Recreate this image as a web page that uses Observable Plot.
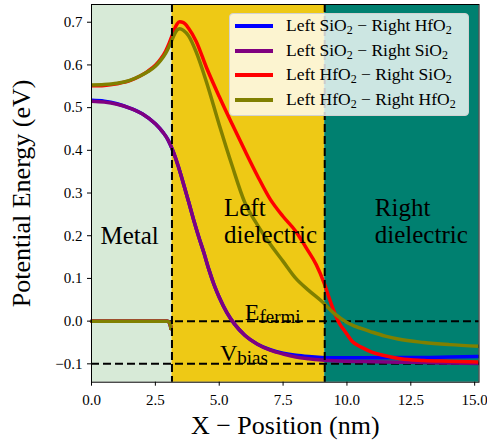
<!DOCTYPE html>
<html><head><meta charset="utf-8">
<script src="https://cdn.jsdelivr.net/npm/d3@7"></script>
<script src="https://cdn.jsdelivr.net/npm/@observablehq/plot@0.6"></script>
<style>
body{margin:0;background:#fff;}
#chart{position:relative;width:487px;height:446px;font-family:"Liberation Serif",serif;}
#legend{position:absolute;left:229px;top:13px;width:240px;height:103px;box-sizing:border-box;border:1px solid #d2d2d2;border-radius:4px;background:rgba(255,255,255,0.8);}
.row{position:absolute;left:0;height:24px;width:100%;font-size:17.5px;color:#000;white-space:nowrap}
.sw{position:absolute;left:5px;top:10px;width:38px;height:4px}
.lbl{position:absolute;left:56px;top:1px;line-height:20px}
.lbl sub{font-size:12px;vertical-align:-3px;line-height:0}
</style></head>
<body><div id="chart"></div>
<script>
// ---- axes / layout data ----
const xTicks = [0, 2.5, 5, 7.5, 10, 12.5, 15];
const yTicks = [-0.1, 0, 0.1, 0.2, 0.3, 0.4, 0.5, 0.6, 0.7];
const xDomain = [0, 15.17];
const yDomain = [-0.143, 0.7415];
const xLabel = "X \u2212 Position (nm)";
const yLabel = "Potential Energy (eV)";

// ---- regions ----
const regionStart = [0, 3.15, 9.13];
const regionEnd = [3.15, 9.13, 15.17];
const regionColors = ["#d7ead7", "#eec915", "#008070"];
const regionNames = ["Metal", "Left\ndielectric", "Right\ndielectric"];
const regionLabelX = [0.35, 5.19, 11.09];
const regionLabelY = [0.18, 0.184, 0.184];
const boundaries = [3.15, 9.13];
const levels = [0, -0.1];
const levelNames = ["E_fermi", "V_bias"];
const levelLabelX = [6.0, 5.03];
const levelLabelY = [0.002, -0.093];

// ---- series ----
const seriesNames = ["Left SiO_2 \u2212 Right HfO_2", "Left SiO_2 \u2212 Right SiO_2", "Left HfO_2 \u2212 Right SiO_2", "Left HfO_2 \u2212 Right HfO_2"];
const seriesColors = ["#0000ff", "#800080", "#ff0000", "#808000"];

const xSiO2 = [0, 0.5, 1.0, 1.5, 2.0, 2.5, 2.8, 3.0, 3.2, 3.4, 3.6, 3.8, 4.0, 4.2, 4.4, 4.6, 4.8, 5.0, 5.3, 5.6, 6.0, 6.5, 7.0, 7.5, 8.0, 8.5, 9.0, 9.5, 10, 11, 12, 13, 14, 15.17];
const yBlue = [0.517, 0.515, 0.509, 0.499, 0.485, 0.462, 0.442, 0.424, 0.397, 0.362, 0.322, 0.28, 0.237, 0.197, 0.16, 0.12, 0.085, 0.056, 0.02, -0.007, -0.033, -0.054, -0.067, -0.075, -0.080, -0.083, -0.085, -0.086, -0.086, -0.086, -0.085, -0.085, -0.084, -0.083];
const yPurple = [0.515, 0.513, 0.508, 0.499, 0.485, 0.462, 0.442, 0.424, 0.397, 0.362, 0.322, 0.28, 0.237, 0.197, 0.16, 0.12, 0.085, 0.056, 0.02, -0.007, -0.033, -0.054, -0.068, -0.077, -0.084, -0.088, -0.091, -0.093, -0.094, -0.095, -0.096, -0.097, -0.098, -0.099];

const xRed = [0, 0.5, 1.0, 1.5, 1.9, 2.2, 2.5, 2.7, 2.9, 3.05, 3.15, 3.25, 3.35, 3.45, 3.6, 3.8, 4.1, 4.5, 5.0, 5.5, 6.0, 6.5, 7.0, 7.5, 8.0, 8.4, 8.8, 9.1, 9.3, 9.5, 9.7, 9.9, 10.2, 10.6, 11.0, 11.5, 12.1, 13.0, 14.0, 15.17];
const yRed = [0.551, 0.552, 0.556, 0.563, 0.574, 0.585, 0.599, 0.613, 0.632, 0.652, 0.668, 0.684, 0.696, 0.701, 0.699, 0.686, 0.655, 0.594, 0.526, 0.462, 0.40, 0.34, 0.285, 0.245, 0.21, 0.172, 0.132, 0.09, 0.055, 0.022, -0.005, -0.022, -0.047, -0.062, -0.073, -0.081, -0.088, -0.092, -0.094, -0.096];

const xOlive = [0, 0.5, 1.0, 1.5, 1.9, 2.2, 2.5, 2.7, 2.9, 3.05, 3.15, 3.25, 3.35, 3.45, 3.6, 3.8, 4.1, 4.5, 5.0, 5.5, 6.0, 6.5, 7.0, 7.5, 8.0, 8.5, 9.0, 9.5, 10.0, 10.5, 11.0, 11.5, 12.0, 13.0, 14.0, 15.17];
const yOlive = [0.553, 0.554, 0.557, 0.564, 0.574, 0.584, 0.597, 0.610, 0.627, 0.645, 0.659, 0.672, 0.682, 0.685, 0.681, 0.668, 0.63, 0.56, 0.46, 0.365, 0.278, 0.225, 0.18, 0.14, 0.10, 0.072, 0.047, 0.018, -0.003, -0.016, -0.026, -0.035, -0.042, -0.05, -0.055, -0.059];

// metal Fermi-level segment (shared by all series)
const metalX = [0, 2.95, 3.03, 3.08, 3.11];
const metalY = [0, 0, -0.002, -0.007, -0.017];

const seriesX = [xSiO2, xSiO2, xRed, xOlive];
const seriesY = [yBlue, yPurple, yRed, yOlive];

// ---- build tables ----
const pts = (xs, ys) => xs.map((x, i) => ({x, y: ys[i]}));
const regions = regionStart.map((s, i) => ({x1: s, x2: regionEnd[i], fill: regionColors[i]}));
const regionLabels = regionNames.map((t, i) => ({text: t, x: regionLabelX[i], y: regionLabelY[i]}));
const levelLabels = levelNames.map((t, i) => ({text: t, x: levelLabelX[i], y: levelLabelY[i]}));

const dash = {stroke: "black", strokeWidth: 2, strokeDasharray: "8,4"};

const curveMarks = seriesNames.flatMap((n, k) => [
  Plot.line(pts(metalX, metalY), {x: "x", y: "y", stroke: seriesColors[k], strokeWidth: 3.5, curve: "monotone-x"}),
  Plot.line(pts(seriesX[k], seriesY[k]), {x: "x", y: "y", stroke: seriesColors[k], strokeWidth: 3.5, curve: "monotone-x", strokeLinejoin: "round", clip: true})
]);

const svg = Plot.plot({
  width: 487,
  height: 446,
  marginLeft: 91,
  marginRight: 8.5,
  marginTop: 4,
  marginBottom: 64.3,
  style: {fontFamily: "'Liberation Serif', serif", fontSize: "16px", background: "white", color: "black", overflow: "visible"},
  x: {domain: xDomain},
  y: {domain: yDomain},
  marks: [
    Plot.rect(regions, {x1: "x1", x2: "x2", fill: d => d.fill}),
    Plot.ruleY(levels, {...dash}),
    ...curveMarks,
    Plot.ruleX(boundaries, {...dash}),
    Plot.text(regionLabels, {x: "x", y: "y", text: "text", textAnchor: "start", lineAnchor: "bottom", lineHeight: 1.07, fontSize: 25, fill: "black"}),
    Plot.text(levelLabels, {x: "x", y: "y", text: "text", textAnchor: "start", lineAnchor: "bottom", fontSize: 24, fill: "black"}),
    Plot.frame({stroke: "black", strokeWidth: 1}),
    Plot.axisX({ticks: xTicks, tickFormat: d3.format(".1f"), tickSize: 4, tickPadding: 8, fontSize: 15, label: null}),
    Plot.axisY({ticks: yTicks, tickFormat: d3.format(".1f"), tickSize: 4, tickPadding: 5, fontSize: 15, label: null}),
    Plot.text([xLabel], {frameAnchor: "bottom", textAnchor: "middle", lineAnchor: "bottom", dy: 52, fontSize: 26, fill: "black"}),
    Plot.text([yLabel], {frameAnchor: "left", textAnchor: "middle", lineAnchor: "top", rotate: -90, dx: -80, fontSize: 26, fill: "black"})
  ]
});

// subscripts for level labels
d3.select(svg).selectAll("text").each(function () {
  const t = this.textContent;
  if (!levelNames.includes(t)) return;
  const [a, b] = t.split("_");
  while (this.firstChild) this.removeChild(this.firstChild);
  const s = d3.select(this);
  s.append("tspan").text(a);
  s.append("tspan").attr("font-size", 19).attr("dy", 3).text(b);
});

const chart = document.getElementById("chart");
chart.appendChild(svg);

// legend
const legend = document.createElement("div");
legend.id = "legend";
seriesNames.forEach((n, k) => {
  const row = document.createElement("div");
  row.className = "row";
  row.style.top = (k * 24.5) + "px";
  const sw = document.createElement("div");
  sw.className = "sw";
  sw.style.background = seriesColors[k];
  const lbl = document.createElement("div");
  lbl.className = "lbl";
  lbl.innerHTML = n.replace(/_(\w)/g, "<sub>$1</sub>");
  row.appendChild(sw);
  row.appendChild(lbl);
  legend.appendChild(row);
});
chart.appendChild(legend);
</script></body></html>
